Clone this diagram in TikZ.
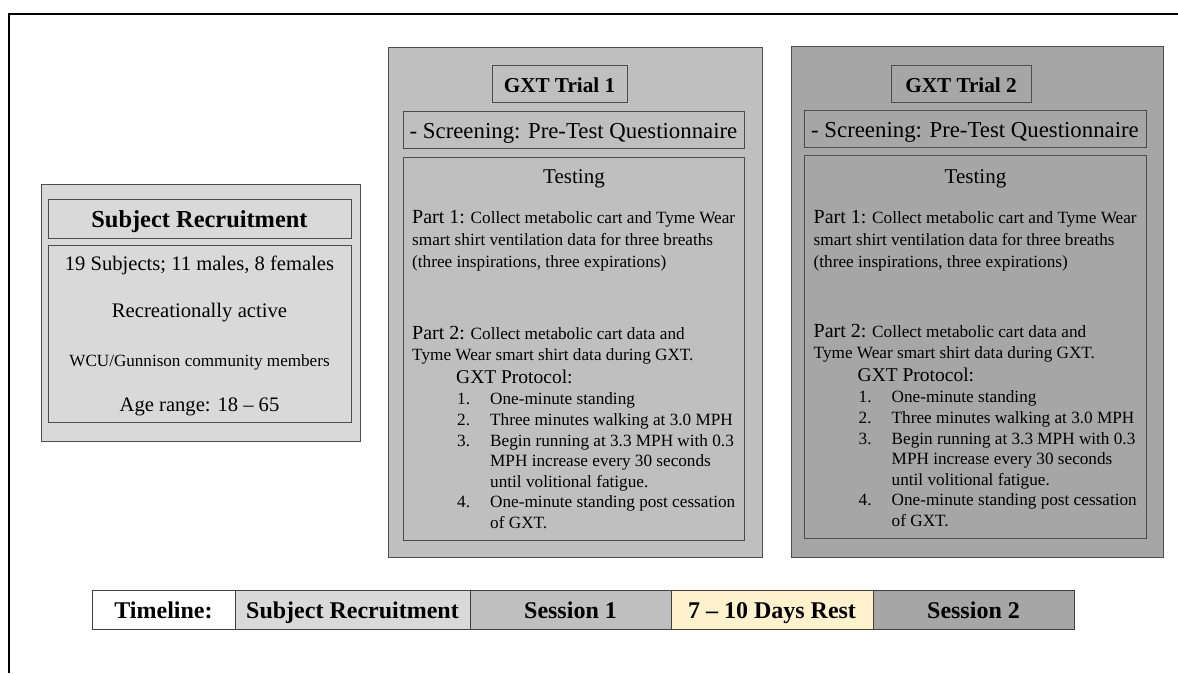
\documentclass[tikz,border=0pt]{standalone}
\usepackage{fontspec}
\setmainfont{Liberation Serif}
\definecolor{srfill}{HTML}{D9D9D9}
\definecolor{sonefill}{HTML}{BFBFBF}
\definecolor{stwofill}{HTML}{A6A6A6}
\definecolor{restfill}{HTML}{FFF2CC}
\definecolor{edge}{HTML}{4D4D4D}
\newcommand{\fs}[1]{\fontsize{#1}{#1}\selectfont}
\newcommand{\boxat}[6]{%
  \node[panel, fill=#6, minimum width={(#4-#2)*1pt}, minimum height={(#5-#3)*1pt}] (#1) at (#2,#3) {};}
\newcommand{\labbox}[7]{%
  \node[panel, labelbox, fill=#6, minimum width={(#4-#2)*1pt}, minimum height={(#5-#3)*1pt}] (#1) at (#2,#3) {#7};}
\newcommand{\gxttext}[3]{%
  \node[lbl, font=\fs{21}] (#1test) at (574+#2,183) {Testing};
  \node[lbll] (#1pa) at (412+#2,223) {{\fs{20}Part 1:} Collect metabolic cart and Tyme Wear};
  \node[lbll] (#1pb) at (412+#2,245) {smart shirt ventilation data for three breaths};
  \node[lbll] (#1pc) at (412+#2,267) {(three inspirations, three expirations)};
  \node[lbll] (#1qa) at (412+#2,339+#3) {{\fs{20}Part 2:} Collect metabolic cart data and};
  \node[lbll] (#1qb) at (412+#2,360+#3) {Tyme Wear smart shirt data during GXT.};
  \node[lbll, font=\fs{19.5}] (#1prot) at (456+#2,383+#3) {GXT Protocol:};
  \node[lbll] (#1na) at (457+#2,404+#3) {1.};
  \node[lbll] (#1nb) at (457+#2,425+#3) {2.};
  \node[lbll] (#1nc) at (457+#2,446+#3) {3.};
  \node[lbll] (#1nd) at (457+#2,507+#3) {4.};
  \node[lbll] (#1ia) at (490+#2,404+#3) {One-minute standing};
  \node[lbll] (#1ib) at (490+#2,425+#3) {Three minutes walking at 3.0 MPH};
  \node[lbll] (#1ic) at (490+#2,446+#3) {Begin running at 3.3 MPH with 0.3};
  \node[lbll] (#1id) at (490+#2,466+#3) {MPH increase every 30 seconds};
  \node[lbll] (#1ie) at (490+#2,487+#3) {until volitional fatigue.};
  \node[lbll] (#1if) at (490+#2,507+#3) {One-minute standing post cessation};
  \node[lbll] (#1ig) at (490+#2,528+#3) {of GXT.};
}
\begin{document}
\begin{tikzpicture}[x=1pt,y=-1pt,
  panel/.style={draw=edge, line width=1pt, inner sep=0pt, outer sep=0pt, anchor=north west},
  labelbox/.style={text height=20pt, text depth=3pt},
  lbl/.style={inner sep=0pt, anchor=base},
  lbll/.style={inner sep=0pt, anchor=base west, font=\fs{17.2}},
  frame/.style={draw=black, line width=2pt},
  cell/.style={draw=black!75, line width=1pt, inner sep=0pt, outer sep=0pt, anchor=north west,
    minimum height=39pt, text height=20pt, text depth=3pt, font=\fs{24}\bfseries}]
\useasboundingbox (0,0) rectangle (1178,673);
% partial frame
\coordinate (ftop) at (1178,14);
\coordinate (fcorner) at (9,14);
\coordinate (fbot) at (9,673);
\draw[frame] (ftop) -- (fcorner) -- (fbot);

% Subject recruitment
\boxat{sr}{41}{184}{360}{441}{srfill}
\labbox{srhead}{48}{199}{351}{238}{srfill}{\fs{24.4}\bfseries Subject Recruitment}
\boxat{srbody}{48}{245}{351}{422}{srfill}
\node[lbl, font=\fs{20.6}] (sra) at (199.5,270) {19 Subjects; 11 males, 8 females};
\node[lbl, font=\fs{20.7}] (srb) at (199.5,317) {Recreationally active};
\node[lbl, font=\fs{17.1}] (src) at (199.5,366) {WCU/Gunnison community members};
\node[lbl, font=\fs{20.6}] (srd) at (199.5,411) {Age range: 18 -- 65};

% GXT Trial 1
\boxat{ga}{388}{47}{762}{557}{sonefill}
\labbox{gatitle}{492}{65}{627}{102}{sonefill}{\fs{21.2}\bfseries GXT Trial 1}
\labbox{gascr}{403}{111}{744}{148}{sonefill}{\fs{22.8}- Screening: Pre-Test Questionnaire}
\boxat{gatest}{403}{157}{744}{540}{sonefill}
\gxttext{ga}{0}{0}

% GXT Trial 2
\boxat{gb}{791}{46}{1163}{557}{stwofill}
\labbox{gbtitle}{891}{65}{1031}{102}{stwofill}{\fs{21.2}\bfseries GXT Trial 2}
\labbox{gbscr}{804}{110}{1146}{147}{stwofill}{\fs{22.8}- Screening: Pre-Test Questionnaire}
\boxat{gbtest}{804}{155}{1146}{538}{stwofill}
\gxttext{gb}{401.5}{-1.5}

% Timeline
\node[cell, fill=white, minimum width=143pt] (tl) at (92,590) {Timeline:};
\node[cell, fill=srfill, minimum width=235pt] (tsr) at (235,590) {Subject Recruitment};
\node[cell, fill=sonefill, minimum width=201pt] (ts1) at (470,590) {Session 1};
\node[cell, fill=restfill, minimum width=202pt] (trest) at (671,590) {7 -- 10 Days Rest};
\node[cell, fill=stwofill, minimum width=201pt] (ts2) at (873,590) {Session 2};
\end{tikzpicture}
\end{document}
